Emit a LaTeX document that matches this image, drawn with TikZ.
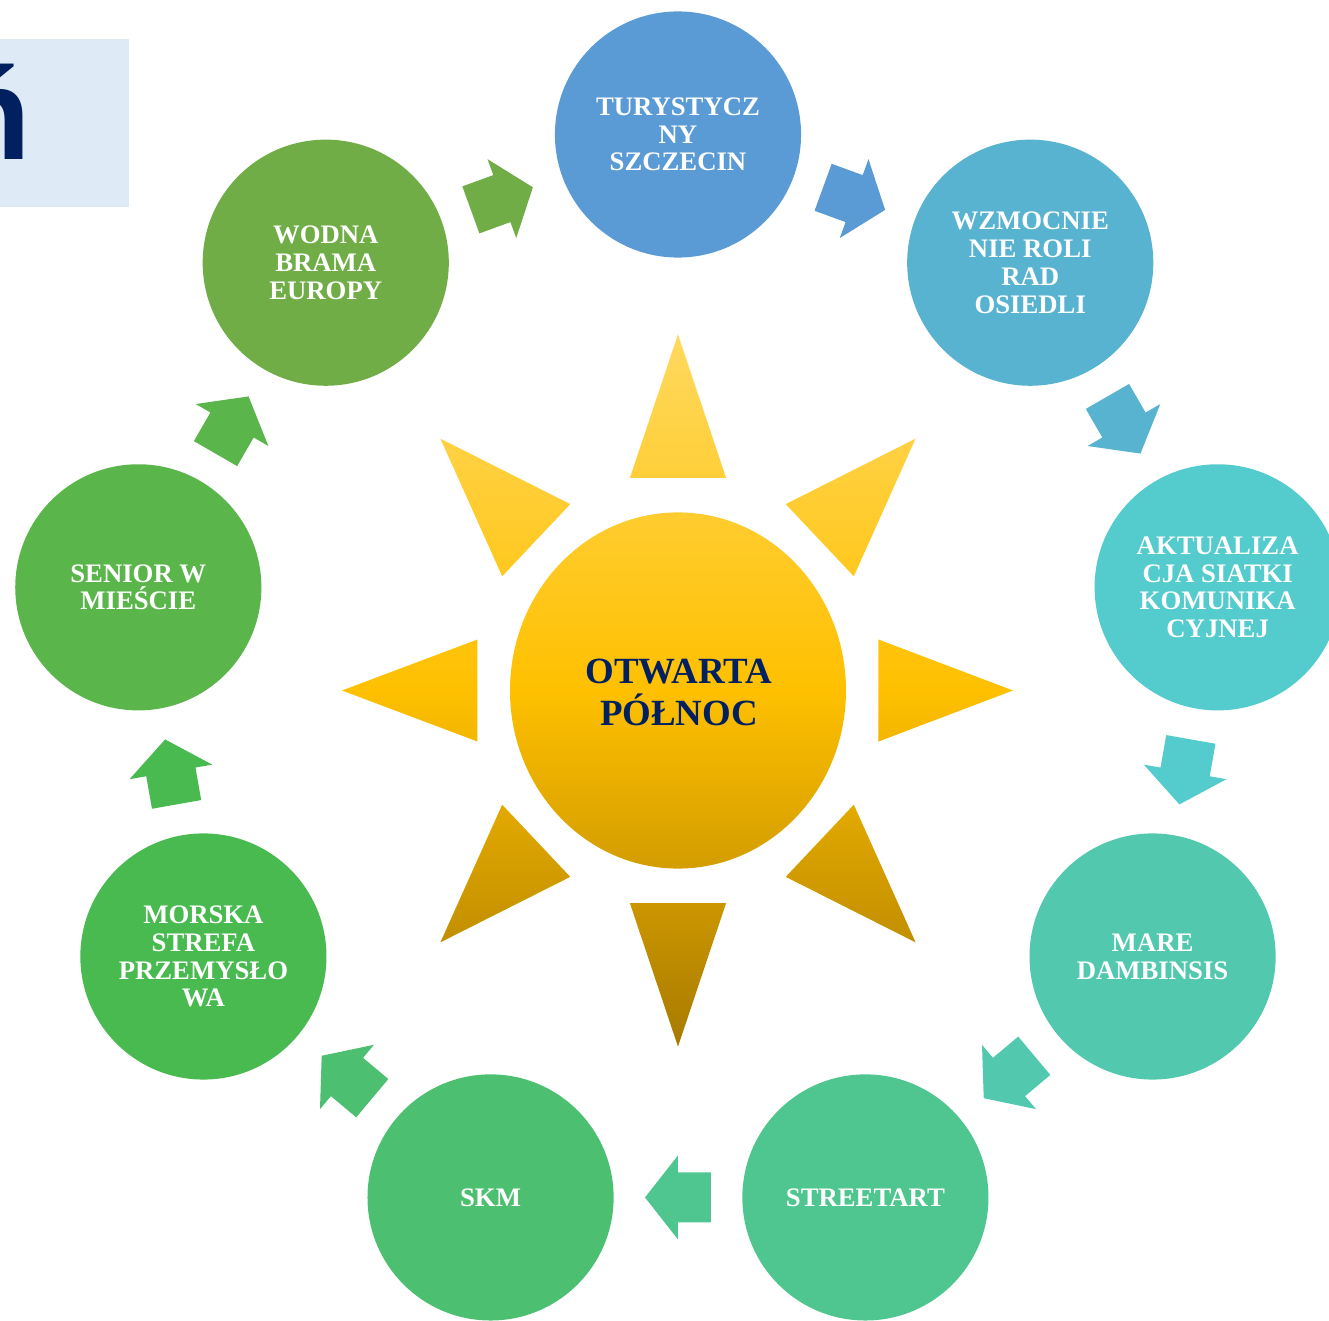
\documentclass[tikz,border=0pt]{standalone}
\usepackage{fontspec}
\setmainfont{Liberation Serif}
\newfontfamily\titlefont{Liberation Sans}
\usepackage{tikz}
\usetikzlibrary{calc}

\definecolor{navy}{RGB}{0,32,96}
\definecolor{titlebg}{RGB}{222,235,247}
\definecolor{cTS}{RGB}{91,155,213}
\definecolor{cWR}{RGB}{87,179,208}
\definecolor{cAK}{RGB}{84,203,204}
\definecolor{cMD}{RGB}{82,201,175}
\definecolor{cST}{RGB}{79,198,143}
\definecolor{cSKM}{RGB}{76,192,112}
\definecolor{cMS}{RGB}{73,186,80}
\definecolor{cSW}{RGB}{90,182,74}
\definecolor{cWB}{RGB}{112,173,71}
\definecolor{sunA}{RGB}{255,217,95}
\definecolor{sunB}{RGB}{255,192,0}
\definecolor{sunC}{RGB}{168,122,0}

\tikzset{
	blockarrow/.pic={\fill[#1] (-33,-25) -- (0,-25) -- (0,-42) -- (33,0) -- (0,42) -- (0,25) -- (-33,25) -- cycle;}
}
\newcommand{\ringarrow}[3]{%
	\path let \p1=($(#2)-(#1)$), \n1={atan2(\y1,\x1)} in
		($(#1)!0.5!(#2)$) pic[rotate=\n1] {blockarrow=#3};
}

\begin{document}
\begin{tikzpicture}[x=0.01cm, y=0.01cm,
	ring/.style={circle, minimum size=2.46cm, inner sep=0pt, text=white, align=center,
		font=\bfseries\fontsize{7.6}{7.9}\selectfont},
	suntext/.style={text=navy, align=center, inner sep=0pt,
		font=\bfseries\fontsize{10.5}{12.2}\selectfont}]
\useasboundingbox (-678,-638.5) rectangle (651,682.5);
\clip (-678,-638.5) rectangle (651,682.5);

%title
\fill[titlebg] (-678,643.5) rectangle (-549,475.8);
\node[anchor=base west, inner sep=0pt, text=navy, font=\titlefont\bfseries\fontsize{37}{40}\selectfont] (TT) at (-726.7,522.5) {ń};

%sun
\begin{scope}[shift={(0,-8)}, yscale=1.06]
	\shade[top color=sunA, bottom color=sunC, middle color=sunB]
		(0,0) circle (168)
		(90:336) -- (103.5:206.2) -- (76.5:206.2) -- cycle
		(45:336) -- (58.5:206.2) -- (31.5:206.2) -- cycle
		(0:335) -- (13.5:206.2) -- (-13.5:206.2) -- cycle
		(-45:336) -- (-31.5:206.2) -- (-58.5:206.2) -- cycle
		(-90:336) -- (-76.5:206.2) -- (-103.5:206.2) -- cycle
		(-135:336) -- (-121.5:206.2) -- (-148.5:206.2) -- cycle
		(180:336) -- (193.5:206.2) -- (166.5:206.2) -- cycle
		(135:336) -- (148.5:206.2) -- (121.5:206.2) -- cycle;
\end{scope}
\node[suntext] (ON) at (1,-10) {OTWARTA\\PÓŁNOC};

%ring
\node[ring, fill=cTS] (TS) at (90:548) {TURYSTYCZ\\NY\\SZCZECIN};
\node[ring, fill=cWR] (WR) at (50:548) {WZMOCNIE\\NIE ROLI\\RAD\\OSIEDLI};
\node[ring, fill=cAK] (AK) at (10:548) {AKTUALIZA\\CJA SIATKI\\KOMUNIKA\\CYJNEJ};
\node[ring, fill=cMD] (MD) at (-30:548) {MARE\\DAMBINSIS};
\node[ring, fill=cST] (ST) at (-70:548) {STREETART};
\node[ring, fill=cSKM] (SKM) at (-110:548) {SKM};
\node[ring, fill=cMS] (MS) at (-150:548) {MORSKA\\STREFA\\PRZEMYSŁO\\WA};
\node[ring, fill=cSW] (SW) at (170:548) {SENIOR W\\MIEŚCIE};
\node[ring, fill=cWB] (WB) at (130:548) {WODNA\\BRAMA\\EUROPY};

\ringarrow{WB}{TS}{cWB}
\ringarrow{TS}{WR}{cTS}
\ringarrow{WR}{AK}{cWR}
\ringarrow{AK}{MD}{cAK}
\ringarrow{MD}{ST}{cMD}
\ringarrow{ST}{SKM}{cST}
\ringarrow{SKM}{MS}{cSKM}
\ringarrow{MS}{SW}{cMS}
\ringarrow{SW}{WB}{cSW}

\end{tikzpicture}
\end{document}
